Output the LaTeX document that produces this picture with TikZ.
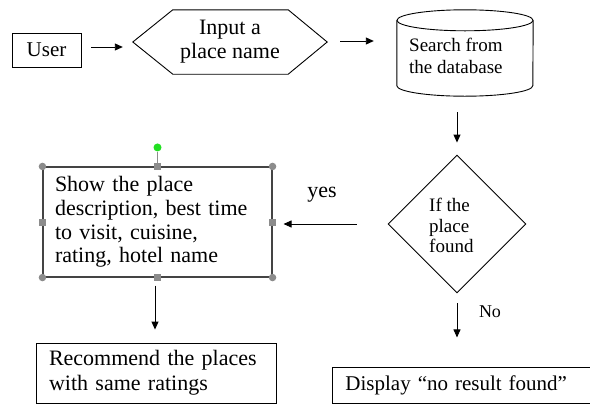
\documentclass[tikz,border=0pt]{standalone}
\usepackage{fontspec}
\setmainfont{Liberation Serif}
\usetikzlibrary{arrows.meta,shapes.geometric}
\definecolor{handlegray}{HTML}{8C8C8C}
\definecolor{handlegreen}{HTML}{22E022}
\definecolor{selframe}{HTML}{444444}
\begin{document}
\begin{tikzpicture}[x=1pt,y=-1pt,
  box/.style={draw, line width=0.9pt, rectangle, inner sep=0pt},
  arr/.style={line width=0.9pt, -{Triangle[length=8pt,width=7pt]}},
  big/.style={font=\fontsize{22}{24}\selectfont},
  mid/.style={font=\fontsize{19}{21}\selectfont},
  lbl/.style={inner sep=0pt},
  hcirc/.style={circle, fill=handlegray, inner sep=0pt, minimum size=7.5pt},
  hsq/.style={rectangle, fill=handlegray, inner sep=0pt, minimum size=7pt}]
\useasboundingbox (0,0) rectangle (590,405);

% User
\node[box, minimum width=69pt, minimum height=34pt, font=\fontsize{21}{23}\selectfont] (user) at (46.5,50) {User};

% Hexagon
\node[minimum width=194pt, minimum height=64pt, inner sep=0pt, align=center, big] (hex) at (230,42) {Input a\\place name};
\draw[line width=0.9pt] (hex.west) -- ([xshift=40pt]hex.north west) -- ([xshift=-39pt]hex.north east)
  -- (hex.east) -- ([xshift=-39pt]hex.south east) -- ([xshift=40pt]hex.south west) -- cycle;

% Cylinder (database)
\node[minimum width=136pt, minimum height=86pt, inner sep=0pt] (db) at (465,53) {};
\draw[line width=0.9pt] ([yshift=-10.5pt]db.north) ellipse [x radius=68pt, y radius=10.5pt];
\draw[line width=0.9pt] ([yshift=-10.5pt]db.north west) -- ([yshift=10.5pt]db.south west)
  arc[start angle=180, end angle=360, x radius=68pt, y radius=10.5pt] -- ([yshift=-10.5pt]db.north east);
\node[lbl, anchor=west, align=left, font=\fontsize{19}{22}\selectfont] (dbt) at (409,56) {Search from\\the database};

% Diamond
\node[draw, line width=0.9pt, diamond, minimum width=138pt, minimum height=138pt, inner sep=0pt] (dia) at (457,224) {};
\node[lbl, anchor=west, align=left, font=\fontsize{19}{20.5}\selectfont] (diat) at (429,225.5) {If the\\place\\found};

% Show box (selected)
\node[draw=selframe, line width=1.1pt, rectangle, minimum width=229pt, minimum height=110pt,
  text width=205pt, inner xsep=12pt, inner ysep=0pt, align=left,
  font=\fontsize{22}{23.7}\selectfont] (show) at (157.5,222)
  {Show the place\\description, best time\\to visit, cuisine,\\rating, hotel name};
\node[circle, fill=handlegreen, inner sep=0pt, minimum size=8pt] (rot) at ([yshift=19pt]show.north) {};
\draw[handlegray, line width=0.8pt] (rot) -- (show.north);
\node[hcirc] (h1) at (show.north west) {};
\node[hcirc] (h2) at (show.north east) {};
\node[hcirc] (h3) at (show.south west) {};
\node[hcirc] (h4) at (show.south east) {};
\node[hsq] (h5) at (show.north) {};
\node[hsq] (h6) at (show.south) {};
\node[hsq] (h7) at (show.west) {};
\node[hsq] (h8) at (show.east) {};

% Recommend box
\node[box, minimum width=240pt, minimum height=60pt, text width=214pt, inner xsep=13pt, align=left,
  font=\fontsize{22}{25}\selectfont] (rec) at (156,373) {Recommend the places\\with same ratings};

% Display box
\node[box, anchor=west, minimum width=268pt, minimum height=36pt, text width=242pt, inner xsep=13pt, align=left,
  font=\fontsize{21}{23}\selectfont] (disp) at (332,385) {Display “no result found”};

% Connectors
\draw[arr] ([xshift=10pt,yshift=3pt]user.east) -- ([xshift=-10pt,yshift=-5pt]hex.west);
\draw[arr] ([xshift=13pt,yshift=1pt]hex.east) -- ([xshift=-23pt,yshift=12pt]db.west);
\draw[arr] ([xshift=-8pt,yshift=-16pt]db.south) -- ([yshift=12pt]dia.north);
\draw[arr] ([xshift=-31pt]dia.west) -- ([xshift=11pt,yshift=-2pt]show.east);
\draw[arr] ([xshift=-2.5pt,yshift=-8pt]show.south) -- ([xshift=-1pt,yshift=13pt]rec.north);
\draw[arr] ([yshift=-10pt]dia.south) -- ([yshift=-44pt]dia.south);

% Labels
\node[lbl, font=\fontsize{22}{24}\selectfont] (yes) at (322,195) {yes};
\node[lbl, font=\fontsize{18}{20}\selectfont] (no) at (490,312) {No};
\end{tikzpicture}
\end{document}
